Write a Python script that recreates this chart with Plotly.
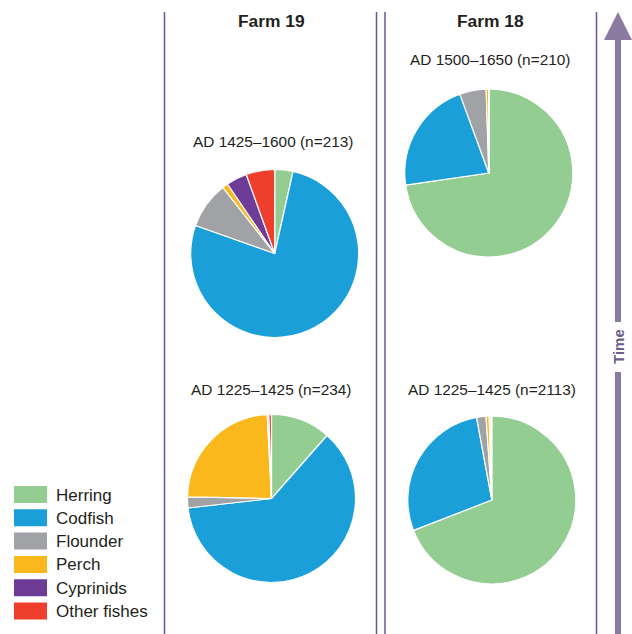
import plotly.graph_objects as go

W, H = 632, 634

categories = ["Herring", "Codfish", "Flounder", "Perch", "Cyprinids", "Other fishes"]
colors = ["#93cd92", "#1a9fd9", "#a0a2a5", "#fbb81d", "#6e3b96", "#ef3e2b"]

farm_titles = ["Farm 19", "Farm 18"]
period_labels = ["AD 1425–1600 (n=213)", "AD 1225–1425 (n=234)",
                 "AD 1500–1650 (n=210)", "AD 1225–1425 (n=2113)"]

# percentages per sample
farm19_late = [3.5, 76.9, 9.0, 1.1, 4.0, 5.5]
farm19_early = [11.5, 61.7, 2.1, 23.9, 0.3, 0.5]
farm18_late = [72.7, 21.7, 5.1, 0.5, 0.0, 0.0]
farm18_early = [69.1, 28.0, 1.8, 0.6, 0.3, 0.2]

samples = [farm19_late, farm19_early, farm18_late, farm18_early]
centers = [(274.7, 253.5), (271.5, 498.5), (488.8, 173.0), (491.8, 500.0)]
R = 84
label_pos = [(272.5, 142), (271, 389), (489.5, 60), (492, 389)]


def px(x):
    return x / W


def py(y):
    return 1 - y / H


fig = go.Figure()
for vals, (cx, cy) in zip(samples, centers):
    fig.add_trace(go.Pie(
        labels=categories, values=vals, sort=False, direction="clockwise", rotation=0,
        marker=dict(colors=colors, line=dict(color="white", width=1.2)),
        textinfo="none", hoverinfo="label+percent", showlegend=False,
        domain=dict(x=[px(cx - R), px(cx + R)], y=[py(cy + R), py(cy - R)]),
    ))

shapes = []
line_col = "#6f5494"
for x in [164.5, 376.5, 385, 596.5]:
    shapes.append(dict(type="line", xref="paper", yref="paper", x0=px(x), x1=px(x),
                       y0=py(12), y1=py(634), line=dict(color=line_col, width=1.5)))

arrow_col = "#8a7aa0"
shapes.append(dict(type="rect", xref="paper", yref="paper", x0=px(615), x1=px(621),
                   y0=py(634), y1=py(372), line=dict(width=0), fillcolor=arrow_col))
shapes.append(dict(type="rect", xref="paper", yref="paper", x0=px(615), x1=px(621),
                   y0=py(322), y1=py(38), line=dict(width=0), fillcolor=arrow_col))
shapes.append(dict(type="path", xref="paper", yref="paper",
                   path=f"M {px(604)} {py(40)} L {px(618)} {py(12)} L {px(632)} {py(40)} Z",
                   line=dict(width=0), fillcolor=arrow_col))

annotations = []
font_fam = "Liberation Sans, Arial, sans-serif"
fx = [271, 490]
for t, x in zip(farm_titles, fx):
    annotations.append(dict(text=f"<b>{t}</b>", x=px(x), y=py(20.5), xref="paper", yref="paper",
                            showarrow=False, xanchor="center", yanchor="middle",
                            font=dict(family=font_fam, size=17.4, color="#231f20")))
for t, (x, y) in zip(period_labels, label_pos):
    annotations.append(dict(text=t, x=px(x), y=py(y), xref="paper", yref="paper",
                            showarrow=False, xanchor="center", yanchor="middle",
                            font=dict(family=font_fam, size=15.4, color="#231f20")))

annotations.append(dict(text="<b>Time</b>", x=px(618), y=py(347), xref="paper", yref="paper",
                        showarrow=False, textangle=-90, xanchor="center", yanchor="middle",
                        font=dict(family=font_fam, size=15, color="#6e5c8c")))

# custom legend
for i, (c, col) in enumerate(zip(categories, colors)):
    top = 486 + i * 23.3
    shapes.append(dict(type="rect", xref="paper", yref="paper", x0=px(14), x1=px(47),
                       y0=py(top + 17), y1=py(top), line=dict(width=0), fillcolor=col))
    annotations.append(dict(text=c, x=px(53.5), y=py(top + 9), xref="paper", yref="paper",
                            showarrow=False, xanchor="left", yanchor="middle",
                            font=dict(family=font_fam, size=17, color="#231f20")))

fig.update_layout(width=W, height=H, margin=dict(l=0, r=0, t=0, b=0),
                  paper_bgcolor="white", plot_bgcolor="white",
                  shapes=shapes, annotations=annotations, showlegend=False)
fig.write_html("out.html", config={"displayModeBar": False},
               post_script="document.body.style.margin='0';document.body.style.overflow='hidden';")
